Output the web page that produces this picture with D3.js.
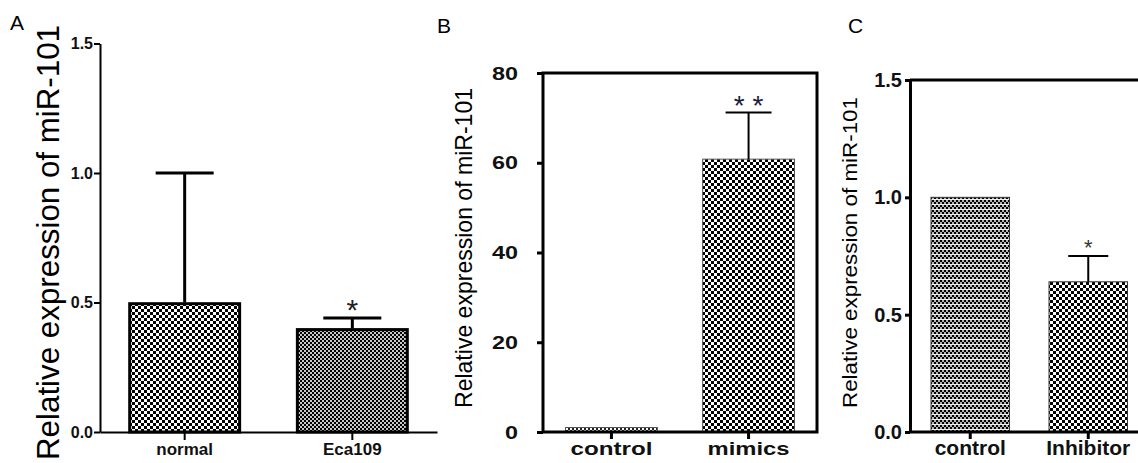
<!DOCTYPE html>
<html><head><meta charset="utf-8">
<script src="https://cdn.jsdelivr.net/npm/d3@7"></script>
<style>
body{margin:0;background:#fff}
svg{display:block}
text{font-family:"Liberation Sans",Arial,sans-serif}
</style>
</head><body>
<svg id="c" width="1138" height="463"></svg>
<script>
// ---------- data ----------
const catA = ["normal", "Eca109"];
const valA = [0.50, 0.40];
const errA = [0.50, 0.04];
const sigA = ["", "*"];
const ticksA = [0, 0.5, 1.0, 1.5];

const catB = ["control", "mimics"];
const valB = [1.0, 60.8];
const errB = [0, 10.4];
const sigB = ["", "* *"];
const ticksB = [0, 20, 40, 60, 80];

const catC = ["control", "Inhibitor"];
const valC = [1.0, 0.64];
const errC = [0, 0.11];
const sigC = ["", "*"];
const ticksC = [0, 0.5, 1.0, 1.5];

const yTitle = "Relative expression of miR-101";
const panelLetters = ["A", "B", "C"];

// ---------- setup ----------
const svg = d3.select("#c");
const defs = svg.append("defs");
const FONT = '"Liberation Sans", Arial, sans-serif';

function checker(id, s, fg, bg) {
  const p = defs.append("pattern").attr("id", id).attr("patternUnits", "userSpaceOnUse")
    .attr("width", 2 * s).attr("height", 2 * s);
  p.append("rect").attr("width", 2 * s).attr("height", 2 * s).attr("fill", bg);
  p.append("rect").attr("width", s).attr("height", s).attr("fill", fg);
  p.append("rect").attr("x", s).attr("y", s).attr("width", s).attr("height", s).attr("fill", fg);
}
checker("pA0", 3, "#000", "#fff");
checker("pA1", 2, "#000", "#c8c8c8");
checker("pB0", 2, "#222", "#fff");
checker("pB1", 3, "#000", "#fff");
checker("pC1", 3, "#000", "#fff");
{
  const p = defs.append("pattern").attr("id", "pC0").attr("patternUnits", "userSpaceOnUse")
    .attr("width", 4).attr("height", 5);
  p.append("rect").attr("width", 4).attr("height", 5).attr("fill", "#b4b4b4");
  [[0,0],[2,2]].forEach(([x,y]) => p.append("rect").attr("x",x).attr("y",y).attr("width",2).attr("height",2).attr("fill","#000"));
  p.append("rect").attr("x",0).attr("y",4).attr("width",4).attr("height",1).attr("fill","#f2f2f2");
}

function styleAxis(g, sw, fs, weight) {
  g.attr("font-family", FONT).attr("font-size", fs).attr("font-weight", weight);
  g.selectAll("line").attr("stroke", "#000").attr("stroke-width", sw);
  g.selectAll("path.domain").attr("stroke", "#000").attr("stroke-width", sw);
  g.selectAll("text").attr("fill", "#111")
    .style("font-size", fs + "px").style("font-weight", weight).style("font-family", FONT);
}

function bars(g, cats, vals, errs, sigs, x, y, pre, o) {
  const bw = x.bandwidth();
  g.selectAll("rect.bar").data(cats).join("rect").attr("class", "bar")
    .attr("x", d => x(d) + o.inset).attr("width", bw - 2 * o.inset)
    .attr("y", (d, i) => y(vals[i]) + o.inset)
    .attr("height", (d, i) => y(0) - y(vals[i]) - o.inset)
    .attr("fill", (d, i) => `url(#${pre}${i})`)
    .attr("stroke", o.barStroke).attr("stroke-width", o.barSW);
  cats.forEach((d, i) => {
    if (!errs[i]) return;
    const cx = x(d) + bw / 2, top = y(vals[i] + errs[i]);
    g.append("line").attr("x1", cx).attr("x2", cx).attr("y1", y(vals[i])).attr("y2", top)
      .attr("stroke", "#000").attr("stroke-width", o.errSW);
    g.append("line").attr("x1", cx - o.cap).attr("x2", cx + o.cap).attr("y1", top).attr("y2", top)
      .attr("stroke", "#000").attr("stroke-width", o.errSW);
  });
  cats.forEach((d, i) => {
    if (!sigs[i]) return;
    const cx = x(d) + bw / 2, top = y(vals[i] + errs[i]);
    g.append("text").attr("x", cx).attr("y", top - o.starGap + 0.59 * o.starFs)
      .attr("text-anchor", "middle").style("font-size", o.starFs + "px").attr("fill", o.starColor)
      .text(sigs[i]);
  });
}

function yLabel(x, y, fs, len) {
  svg.append("text").attr("transform", `translate(${x},${y}) rotate(-90)`)
    .attr("text-anchor", "middle").style("font-size", fs + "px").attr("fill", "#000")
    .attr("textLength", len).attr("lengthAdjust", "spacingAndGlyphs")
    .text(yTitle);
}

// ---------- Panel A ----------
{
  const x = d3.scaleBand().domain(catA).range([100, 437]).paddingInner(0.33).paddingOuter(0.17);
  const y = d3.scaleLinear().domain([0, 1.5]).range([432, 43.5]);
  const g = svg.append("g");
  bars(g, catA, valA, errA, sigA, x, y, "pA", {inset: 1.2, barStroke: "#000", barSW: 3, errSW: 3, cap: 29, starGap: 16, starFs: 30, starColor: "#222"});
  const ya = g.append("g").attr("transform", "translate(100,0)")
    .call(d3.axisLeft(y).tickValues(ticksA).tickFormat(d3.format(".1f")).tickSize(6).tickPadding(1).tickSizeOuter(0));
  styleAxis(ya, 2, 16, "bold");
  const xa = g.append("g").attr("transform", "translate(0,432)")
    .call(d3.axisBottom(x).tickSize(8).tickSizeOuter(0));
  styleAxis(xa, 2, 17, "bold");
  xa.selectAll("text").attr("y", 23).attr("dy", null);
  yLabel(59, 242.5, 31, 435);
  svg.append("text").attr("x", 10).attr("y", 30).style("font-size", "21px").text(panelLetters[0]);
}

// ---------- Panel B ----------
{
  const x = d3.scaleBand().domain(catB).range([543, 817]).paddingInner(0.33).paddingOuter(0.164);
  const y = d3.scaleLinear().domain([0, 80]).range([432, 73]);
  const g = svg.append("g");
  bars(g, catB, valB, errB, sigB, x, y, "pB", {inset: 0, barStroke: "#555", barSW: 1, errSW: 2, cap: 23, starGap: 14, starFs: 28, starColor: "#1b1b3a"});
  g.append("rect").attr("x", 543).attr("y", 73).attr("width", 274).attr("height", 359)
    .attr("fill", "none").attr("stroke", "#000").attr("stroke-width", 3);
  const ya = g.append("g").attr("transform", "translate(543,0)")
    .call(d3.axisLeft(y).tickValues(ticksB).tickSize(6).tickPadding(19).tickSizeOuter(0));
  styleAxis(ya, 3, 19, "bold");
  ya.select(".domain").remove();
  ya.selectAll("text").attr("textLength", d => String(d).length * 13).attr("lengthAdjust", "spacingAndGlyphs");
  const xa = g.append("g").attr("transform", "translate(0,432)")
    .call(d3.axisBottom(x).tickSize(7).tickSizeOuter(0));
  styleAxis(xa, 3, 19, "bold");
  xa.select(".domain").remove();
  xa.selectAll("text").attr("y", 23).attr("dy", null).attr("textLength", 82).attr("lengthAdjust", "spacingAndGlyphs");
  yLabel(472, 248, 24, 320);
  svg.append("text").attr("x", 437).attr("y", 33).style("font-size", "21px").text(panelLetters[1]);
}

// ---------- Panel C ----------
{
  const x = d3.scaleBand().domain(catC).range([910, 1148.5]).paddingInner(0.335).paddingOuter(0.178);
  const y = d3.scaleLinear().domain([0, 1.5]).range([432, 80]);
  const g = svg.append("g");
  bars(g, catC, valC, errC, sigC, x, y, "pC", {inset: 0, barStroke: "#333", barSW: 1, errSW: 2, cap: 20, starGap: 14, starFs: 22, starColor: "#333"});
  g.append("line").attr("x1", 910).attr("x2", 1138).attr("y1", 80).attr("y2", 80).attr("stroke", "#000").attr("stroke-width", 3);
  const ya = g.append("g").attr("transform", "translate(910,0)")
    .call(d3.axisLeft(y).tickValues(ticksC).tickFormat(d3.format(".1f")).tickSize(5).tickPadding(3).tickSizeOuter(0));
  styleAxis(ya, 3, 20, "bold");
  const xa = g.append("g").attr("transform", "translate(0,432)")
    .call(d3.axisBottom(x).tickSize(7).tickSizeOuter(0));
  styleAxis(xa, 3, 21, "bold");
  xa.select(".domain").attr("d", "M910,0H1138");
  xa.selectAll("text").attr("y", 23).attr("dy", null);
  yLabel(857, 252.5, 21, 311);
  svg.append("text").attr("x", 848).attr("y", 33).style("font-size", "21px").text(panelLetters[2]);
}
</script>
</body></html>
